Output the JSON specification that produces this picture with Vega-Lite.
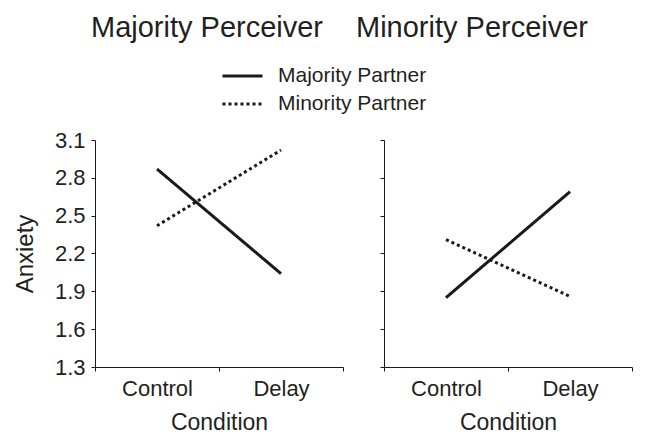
{
  "$schema": "https://vega.github.io/schema/vega-lite/v6.json",
  "background": "white",
  "padding": {"left": 13, "top": 13, "right": 5, "bottom": 0},
  "data": {"values": [
    {"perceiver": "Majority Perceiver", "condition": "Control", "partner": "Majority Partner", "anxiety": 2.87},
    {"perceiver": "Majority Perceiver", "condition": "Delay", "partner": "Majority Partner", "anxiety": 2.04},
    {"perceiver": "Majority Perceiver", "condition": "Control", "partner": "Minority Partner", "anxiety": 2.42},
    {"perceiver": "Majority Perceiver", "condition": "Delay", "partner": "Minority Partner", "anxiety": 3.02},
    {"perceiver": "Minority Perceiver", "condition": "Control", "partner": "Majority Partner", "anxiety": 1.85},
    {"perceiver": "Minority Perceiver", "condition": "Delay", "partner": "Majority Partner", "anxiety": 2.69},
    {"perceiver": "Minority Perceiver", "condition": "Control", "partner": "Minority Partner", "anxiety": 2.31},
    {"perceiver": "Minority Perceiver", "condition": "Delay", "partner": "Minority Partner", "anxiety": 1.86}
  ]},
  "bounds": "flush",
  "spacing": 41,
  "resolve": {"scale": {"strokeDash": "shared"}, "legend": {"strokeDash": "shared"}},
  "hconcat": [
    {
      "title": {"text": "Majority Perceiver", "dx": -12, "offset": 86},
      "width": 248,
      "height": 227,
      "transform": [{"filter": "datum.perceiver === 'Majority Perceiver'"}],
      "mark": {"type": "line", "strokeWidth": 3, "color": "#1a1a1a", "strokeCap": "butt"},
      "encoding": {
        "x": {"field": "condition", "type": "nominal", "title": "Condition", "sort": ["Control", "Delay"],
              "scale": {"type": "band", "paddingInner": 0, "paddingOuter": 0}},
        "y": {"field": "anxiety", "type": "quantitative", "title": "Anxiety",
              "scale": {"domain": [1.3, 3.1], "nice": false, "zero": false},
              "axis": {"values": [1.3, 1.6, 1.9, 2.2, 2.5, 2.8, 3.1], "format": ".1f"}},
        "strokeDash": {"field": "partner", "type": "nominal", "title": null,
              "scale": {"domain": ["Majority Partner", "Minority Partner"], "range": [[1, 0], [3, 3]]},
              "legend": {"orient": "none", "legendX": 126, "legendY": -78}}
      }
    },
    {
      "title": {"text": "Minority Perceiver", "dx": -36, "offset": 97},
      "width": 248,
      "height": 227,
      "transform": [{"filter": "datum.perceiver === 'Minority Perceiver'"}],
      "mark": {"type": "line", "strokeWidth": 3, "color": "#1a1a1a", "strokeCap": "butt"},
      "encoding": {
        "x": {"field": "condition", "type": "nominal", "title": "Condition", "sort": ["Control", "Delay"],
              "scale": {"type": "band", "paddingInner": 0, "paddingOuter": 0}},
        "y": {"field": "anxiety", "type": "quantitative", "title": null,
              "scale": {"domain": [1.3, 3.1], "nice": false, "zero": false},
              "axis": {"values": [1.3, 1.6, 1.9, 2.2, 2.5, 2.8, 3.1], "labels": false}},
        "strokeDash": {"field": "partner", "type": "nominal", "title": null,
              "scale": {"domain": ["Majority Partner", "Minority Partner"], "range": [[1, 0], [3, 3]]}}
      }
    }
  ],
  "config": {
    "font": "Liberation Sans",
    "view": {"stroke": null},
    "title": {"fontSize": 29, "fontWeight": "normal", "color": "#231f20", "anchor": "middle", "frame": "group"},
    "axis": {
      "grid": false,
      "domainColor": "#1a1a1a",
      "tickColor": "#1a1a1a",
      "labelColor": "#231f20",
      "titleColor": "#231f20",
      "titleFontWeight": "normal",
      "tickSize": 4
    },
    "axisX": {"labelAngle": 0, "labelFontSize": 22, "titleFontSize": 23, "tickBand": "extent", "labelPadding": 7, "titlePadding": 12},
    "axisY": {"labelFontSize": 22, "titleFontSize": 24, "labelPadding": 6, "titlePadding": 17},
    "legend": {
      "symbolType": "stroke",
      "symbolSize": 1600,
      "symbolStrokeWidth": 3,
      "symbolStrokeColor": "#1a1a1a",
      "labelFontSize": 21,
      "labelColor": "#231f20",
      "labelOffset": 14,
      "rowPadding": 0,
      "clipHeight": 28
    }
  }
}
